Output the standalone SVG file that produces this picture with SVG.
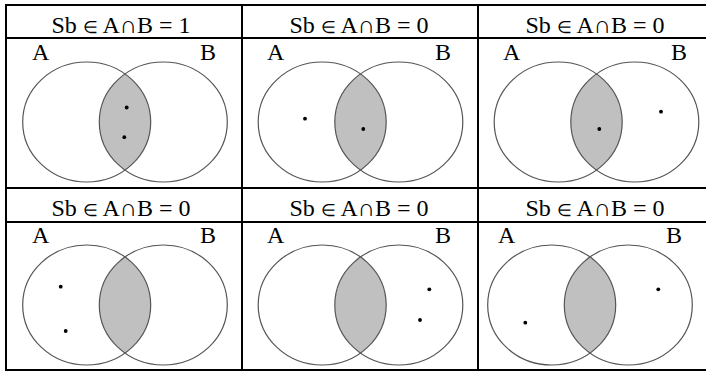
<svg xmlns="http://www.w3.org/2000/svg" xmlns:xlink="http://www.w3.org/1999/xlink" width="706" height="372" viewBox="0 0 706 372">
<style>
.grid{stroke:#000;stroke-width:2;fill:none}
.hdr{font-size:24px;fill:#000;text-anchor:middle}
.lbl{font-size:24px;fill:#000}
.circ{fill:none;stroke:#555;stroke-width:1.2}
.lens{fill:#c0c0c0;stroke:none}
.dot{fill:#000}
.el{font-size:17px}
</style>
<defs>
<g id="venn">
<path class="lens" d="M0,-48.07 A64,60 0 0 1 0,48.07 A64,60 0 0 1 0,-48.07 Z"/>
<ellipse class="circ" cx="-38.3" cy="0" rx="64" ry="60"/>
<ellipse class="circ" cx="38.3" cy="0" rx="64" ry="60"/>
</g>
</defs>
<rect x="0" y="0" width="706" height="372" fill="#fff"/>
<g id="grid">
<line class="grid" x1="5" y1="5" x2="706" y2="5"/>
<line class="grid" x1="5" y1="38" x2="706" y2="38"/>
<line class="grid" x1="5" y1="188" x2="706" y2="188"/>
<line class="grid" x1="5" y1="222" x2="706" y2="222"/>
<line class="grid" x1="5" y1="370" x2="706" y2="370"/>
<line class="grid" x1="6" y1="4" x2="6" y2="371"/>
<line class="grid" x1="242" y1="4" x2="242" y2="371"/>
<line class="grid" x1="478" y1="4" x2="478" y2="371"/>
</g>
<g font-family="Liberation Serif, Times New Roman, serif">
<g id="cell1">
<text class="hdr" x="121" y="33">Sb <tspan class="el">∈</tspan> A∩B = 1</text>
<text class="lbl" x="32" y="60">A</text>
<text class="lbl" x="200" y="60">B</text>
<use xlink:href="#venn" transform="translate(125,122)"/>
<circle class="dot" cx="126.7" cy="107.5" r="1.9"/>
<circle class="dot" cx="124.3" cy="137.2" r="1.9"/>
</g>
<g id="cell2">
<text class="hdr" x="359" y="33">Sb <tspan class="el">∈</tspan> A∩B = 0</text>
<text class="lbl" x="267" y="60">A</text>
<text class="lbl" x="435" y="60">B</text>
<use xlink:href="#venn" transform="translate(360.5,122)"/>
<circle class="dot" cx="305" cy="118.7" r="1.9"/>
<circle class="dot" cx="363.3" cy="129" r="1.9"/>
</g>
<g id="cell3">
<text class="hdr" x="595" y="33">Sb <tspan class="el">∈</tspan> A∩B = 0</text>
<text class="lbl" x="503" y="60">A</text>
<text class="lbl" x="671" y="60">B</text>
<use xlink:href="#venn" transform="translate(596.5,122)"/>
<circle class="dot" cx="599.3" cy="129" r="1.9"/>
<circle class="dot" cx="661" cy="111.7" r="1.9"/>
</g>
<g id="cell4">
<text class="hdr" x="121" y="216">Sb <tspan class="el">∈</tspan> A∩B = 0</text>
<text class="lbl" x="32" y="243">A</text>
<text class="lbl" x="200" y="243">B</text>
<use xlink:href="#venn" transform="translate(125,305)"/>
<circle class="dot" cx="60.7" cy="286.7" r="1.9"/>
<circle class="dot" cx="65.7" cy="331" r="1.9"/>
</g>
<g id="cell5">
<text class="hdr" x="359" y="216">Sb <tspan class="el">∈</tspan> A∩B = 0</text>
<text class="lbl" x="267" y="243">A</text>
<text class="lbl" x="435" y="243">B</text>
<use xlink:href="#venn" transform="translate(360.5,305)"/>
<circle class="dot" cx="429.3" cy="289.3" r="1.9"/>
<circle class="dot" cx="420" cy="320" r="1.9"/>
</g>
<g id="cell6">
<text class="hdr" x="595" y="216">Sb <tspan class="el">∈</tspan> A∩B = 0</text>
<text class="lbl" x="498" y="243">A</text>
<text class="lbl" x="666" y="243">B</text>
<use xlink:href="#venn" transform="translate(590,305)"/>
<circle class="dot" cx="525.3" cy="322.7" r="1.9"/>
<circle class="dot" cx="658.3" cy="289.3" r="1.9"/>
</g>
</g>
</svg>
